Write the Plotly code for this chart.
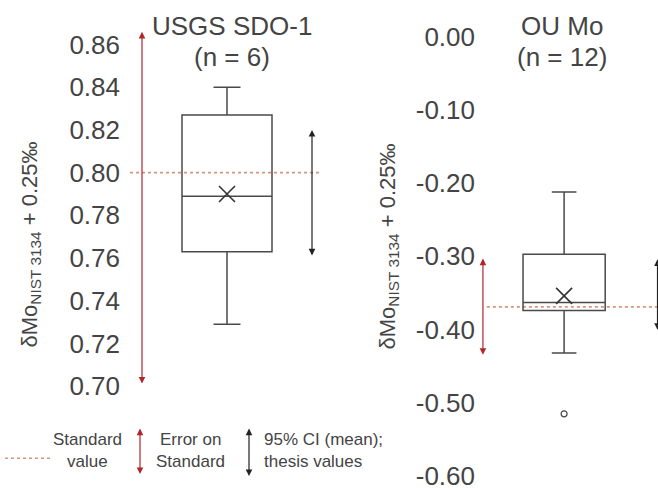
import plotly.graph_objects as go

# Summary statistics for the two reference materials (delta Mo, per mil)
samples = ["USGS SDO-1", "OU Mo"]
sample_counts = [6, 12]
lower_fence = [0.729, -0.432]
q1 = [0.763, -0.374]
median = [0.789, -0.363]
q3 = [0.827, -0.297]
upper_fence = [0.840, -0.212]
mean = [0.790, -0.354]
outliers = [[], [-0.515]]

standard_value = [0.800, -0.369]
standard_err_low = [0.701, -0.435]
standard_err_high = [0.866, -0.303]
ci_low = [0.761, -0.401]
ci_high = [0.820, -0.304]

ytick_vals = [
    [0.70, 0.72, 0.74, 0.76, 0.78, 0.80, 0.82, 0.84, 0.86],
    [-0.60, -0.50, -0.40, -0.30, -0.20, -0.10, 0.00],
]
ytick_text = [
    ["0.70", "0.72", "0.74", "0.76", "0.78", "0.80", "0.82", "0.84", "0.86"],
    ["-0.60", "-0.50", "-0.40", "-0.30", "-0.20", "-0.10", "0.00"],
]

W, H = 658, 491
FONT = "Liberation Sans"
TXT = "#444444"
BOX_COL = "#4a4a4a"
STD_COL = "#d9957c"
ERR_COL = "#b0262a"
CI_COL = "#222222"

# horizontal layout of each panel (x axis units == screen px across the figure)
x_domain_px = [(125, 330), (480, 658)]
x_range = [(125, 330), (480, 662)]
box_x = [227, 566]
box_w = [90, 84]
err_x = [142, 483]
ci_x = [312, 661.5]
std_span = [(130, 320), (487, 662)]
y_range = [(0.6532, 0.8809), (-0.6135, 0.05)]
title_px = [232, 562]

# double-headed arrow style; a 1px font keeps the empty label box from
# shortening the tail end of the arrow
ARROW = dict(showarrow=True, arrowside="end+start", arrowhead=2, arrowsize=1.1,
             arrowwidth=1.2, text="", borderpad=0, font=dict(size=1))

fig = go.Figure()

for i in range(2):
    xa = "x" if i == 0 else "x2"
    ya = "y" if i == 0 else "y2"
    fig.add_trace(go.Box(
        x=[box_x[i]], q1=[q1[i]], median=[median[i]], q3=[q3[i]],
        lowerfence=[lower_fence[i]], upperfence=[upper_fence[i]],
        width=box_w[i], whiskerwidth=0.3, boxpoints=False,
        fillcolor="rgba(0,0,0,0)", line=dict(color=BOX_COL, width=1.5),
        xaxis=xa, yaxis=ya, showlegend=False, hoverinfo="skip",
    ))
    fig.add_trace(go.Scatter(
        x=[box_x[i]], y=[mean[i]], mode="markers",
        marker=dict(symbol="x-thin", size=16, color="#333",
                    line=dict(color="#333", width=1.6)),
        xaxis=xa, yaxis=ya, showlegend=False, hoverinfo="skip",
    ))
    if outliers[i]:
        fig.add_trace(go.Scatter(
            x=[box_x[i]] * len(outliers[i]), y=outliers[i], mode="markers",
            marker=dict(symbol="circle-open", size=6, color="#444",
                        line=dict(color="#444", width=1.2)),
            xaxis=xa, yaxis=ya, showlegend=False, hoverinfo="skip",
        ))
    # standard value (dotted line)
    fig.add_shape(type="line", xref=xa, yref=ya,
                  x0=std_span[i][0], x1=std_span[i][1],
                  y0=standard_value[i], y1=standard_value[i],
                  line=dict(color=STD_COL, width=1.6, dash="dot"), layer="below")
    # error on standard (red double arrow)
    fig.add_annotation(xref=xa, yref=ya, axref=xa, ayref=ya,
                       x=err_x[i], y=standard_err_high[i],
                       ax=err_x[i], ay=standard_err_low[i],
                       arrowcolor=ERR_COL, **ARROW)
    # 95% CI of the mean (black double arrow)
    fig.add_annotation(xref=xa, yref=ya, axref=xa, ayref=ya,
                       x=ci_x[i], y=ci_high[i], ax=ci_x[i], ay=ci_low[i],
                       arrowcolor=CI_COL, **ARROW)

    # panel titles
    for line, ypx in [(samples[i], 26), (f"(n = {sample_counts[i]})", 58)]:
        fig.add_annotation(xref="paper", yref="paper", x=title_px[i] / W,
                           y=1 - ypx / H, xanchor="center", yanchor="middle",
                           text=line, showarrow=False,
                           font=dict(family=FONT, size=26, color=TXT))

# rotated y-axis titles
for xc, yc in [(31, 247), (389, 249)]:
    fig.add_annotation(xref="paper", yref="paper", x=xc / W, y=1 - yc / H,
                       xanchor="center", yanchor="middle",
                       text="δMo<sub>NIST 3134</sub> + 0.25‰", textangle=-90,
                       showarrow=False, font=dict(family=FONT, size=22, color=TXT))

# legend key along the bottom
fig.add_shape(type="line", xref="paper", yref="paper",
              x0=5 / W, x1=52 / W, y0=1 - 463 / H, y1=1 - 463 / H,
              line=dict(color=STD_COL, width=1.4, dash="dot"))
for kx, klen, kcol in [(140, 46, ERR_COL), (249, 48, CI_COL)]:
    fig.add_annotation(xref="paper", yref="paper", x=kx / W, y=1 - 433 / H,
                       axref="pixel", ayref="pixel", ax=0, ay=klen,
                       arrowcolor=kcol, **ARROW)
legend_font = dict(family=FONT, size=17, color=TXT)
for xc, align, lines in [
    (87, "center", ["Standard", "value"]),
    (190, "center", ["Error on", "Standard"]),
    (262, "left", ["95% CI (mean);", "thesis values"]),
]:
    for k, line in enumerate(lines):
        fig.add_annotation(xref="paper", yref="paper", x=xc / W,
                           y=1 - (444 + 22 * k) / H, text=line, showarrow=False,
                           xanchor=align, yanchor="middle", font=legend_font)

axis_common = dict(showgrid=False, zeroline=False, showline=False, ticks="",
                   ticklabelstandoff=4, ticklabeloverflow="allow",
                   tickfont=dict(family=FONT, size=26, color=TXT))

fig.update_layout(
    width=W, height=H, margin=dict(l=0, r=0, t=0, b=0),
    paper_bgcolor="white", plot_bgcolor="white",
    xaxis=dict(domain=[x_domain_px[0][0] / W, x_domain_px[0][1] / W],
               range=list(x_range[0]), visible=False),
    xaxis2=dict(domain=[x_domain_px[1][0] / W, 1.0],
                range=list(x_range[1]), visible=False, anchor="y2"),
    yaxis=dict(domain=[0, 1], range=list(y_range[0]), anchor="x",
               tickvals=ytick_vals[0], ticktext=ytick_text[0], **axis_common),
    yaxis2=dict(domain=[0, 1], range=list(y_range[1]), anchor="x2",
                tickvals=ytick_vals[1], ticktext=ytick_text[1], **axis_common),
    showlegend=False,
)

fig.write_html("out.html")
